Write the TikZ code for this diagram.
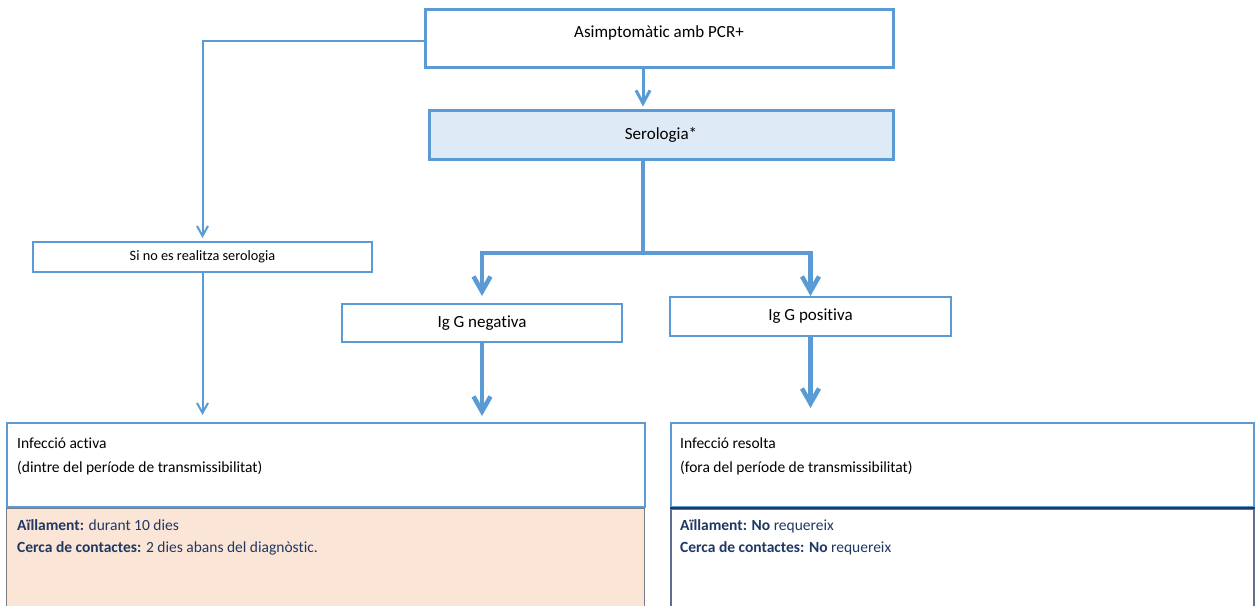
\documentclass[tikz,border=0pt]{standalone}
\usepackage{fontspec}
\setmainfont{Carlito}[Ligatures=NoCommon]
\usepackage{tikz}
\usetikzlibrary{arrows.meta,positioning}
\definecolor{boxblue}{HTML}{5B9BD5}
\definecolor{serofill}{HTML}{DEEBF7}
\definecolor{peach}{HTML}{FBE5D6}
\definecolor{navy}{HTML}{1F3864}
\definecolor{slate}{HTML}{5E6F8F}
\newcommand{\thinw}{2pt}
\newcommand{\thickw}{4.5pt}
\newcommand{\bigtxt}{\fontsize{17}{20}\selectfont}
\newcommand{\lowtxt}{\fontsize{15.5}{18}\selectfont}

\begin{document}
\begin{tikzpicture}[x=1pt,y=-1pt,
        box/.style={draw=boxblue, line width=\thinw, fill=white, inner sep=0pt, font=\bigtxt},
        linetxt/.style={anchor=base west, inner sep=0pt, font=\lowtxt},
        navytxt/.style={linetxt, text=navy},
        thinarrow/.style={draw=boxblue, line width=\thinw, -{Straight Barb[length=10pt,width=11pt]}},
        midarrow/.style={draw=boxblue, line width=3pt, -{Straight Barb[length=13pt,width=14pt]}},
        fatline/.style={draw=boxblue, line width=\thickw},
        fatarrow/.style={fatline, -{Straight Barb[length=15pt,width=17pt]}}]
                %\draw[help lines] (0,0) grid (1257,605);
                \useasboundingbox (0,0) rectangle (1257,605);
                % upper boxes
                \node[box, line width=3pt, minimum width=468pt, text height=28pt, text depth=30pt] (pcr) at (659,38) {Asimptomàtic amb PCR+};
                \node[box, line width=3pt, fill=serofill, minimum width=464pt, minimum height=49pt] (sero) at (661,134.5) {Serologia*};
                \node[box, minimum width=339pt, minimum height=30pt, font=\fontsize{14.3}{16}\selectfont] (nosero) at (202.5,257) {Si no es realitza serologia};
                \node[box, minimum width=280pt, minimum height=38pt] (neg) at (482,323) {Ig G negativa};
                \node[box, minimum width=281pt, minimum height=39pt] (pos) at (810.5,316.5) {Ig G positiva};
                % result boxes
                \node[box, anchor=north west, minimum width=638pt, minimum height=84pt] (activa) at (6,422) {};
                \node[box, anchor=north west, minimum width=583pt, minimum height=84pt] (resolta) at (670,422) {};
                \node[draw=gray!80!slate, line width=1pt, fill=peach, anchor=north west, inner sep=0pt, minimum width=638pt, minimum height=110pt] (activalow) at (activa.south west) {};
                \node[draw=slate, line width=2pt, fill=white, anchor=north west, inner sep=0pt, minimum width=583pt, minimum height=110pt] (resoltalow) at (resolta.south west) {};
                \draw[navy, line width=2pt] (resoltalow.north west) -- (resoltalow.north east);
                % texts of the result boxes
                \node[linetxt] (activa1) at (17,448) {Infecció activa};
                \node[linetxt] (activa2) at (17,472) {(dintre del període de transmissibilitat)};
                \node[navytxt] (activa3) at (17,530) {\textbf{Aïllament:} durant 10 dies};
                \node[navytxt] (activa4) at (17,552) {\textbf{Cerca de contactes:} 2 dies abans del diagnòstic.};
                \node[linetxt] (resolta1) at (680,448) {Infecció resolta};
                \node[linetxt] (resolta2) at (680,472) {(fora del període de transmissibilitat)};
                \node[navytxt] (resolta3) at (680,530) {\textbf{Aïllament: No} requereix};
                \node[navytxt] (resolta4) at (680,552) {\textbf{Cerca de contactes: No} requereix};
                % connectors
                \coordinate (split) at (643,253);
                \draw[midarrow, shorten >=2pt] (pcr.south -| split) -- (sero.north -| split);
                \draw[fatline] (sero.south -| split) -- (split);
                \draw[fatarrow, shorten >=7pt] (split) -| (neg.north);
                \draw[fatarrow] (split) -| (pos.north);
                \draw[fatarrow, shorten >=6pt] (neg.south) -- (neg.south |- activa.north);
                \draw[fatarrow, shorten >=14pt] (pos.south) -- (pos.south |- resolta.north);
                \draw[thinarrow, shorten >=3pt] ([yshift=-3pt]pcr.west) -| (nosero.north);
                \draw[thinarrow, shorten >=7pt] (nosero.south) -- (nosero.south |- activa.north);
        \end{tikzpicture}
\end{document}
